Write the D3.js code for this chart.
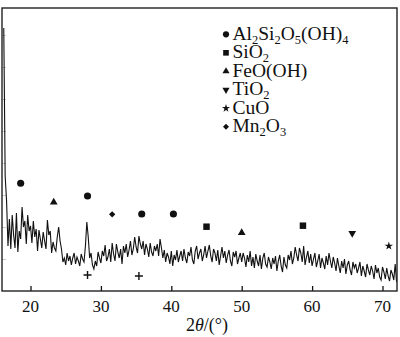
<!DOCTYPE html>
<html>
<head>
<meta charset="utf-8">
<script src="https://cdn.jsdelivr.net/npm/d3@7"></script>
<style>
  html, body { margin: 0; padding: 0; background: #fff; }
  svg { display: block; }
</style>
</head>
<body>
<svg id="chart" width="400" height="337"></svg>
<script>
// XRD scan, 2θ from 16.2° in 0.2° steps (counts, a.u.)
const twoThetaStart = 16.2;
const twoThetaStep = 0.2;
const intensity = [
  2630,1150,900,450,720,420,760,560,430,780,
  390,600,520,840,640,700,470,760,600,650,
  480,700,540,620,400,610,520,430,590,500,
  420,710,560,600,380,490,430,400,540,640,
  500,420,290,330,260,380,300,350,260,330,
  380,270,340,300,250,370,320,290,450,690,
  540,330,380,260,220,300,250,390,330,280,
  400,350,460,300,340,420,290,480,370,300,
  470,390,330,420,270,450,380,470,340,410,
  500,360,420,540,440,380,550,470,420,500,
  360,470,420,340,480,390,350,450,400,470,
  350,520,430,330,410,290,380,340,270,400,
  250,360,310,410,290,350,400,300,420,330,
  280,390,350,440,310,270,400,450,320,380,
  420,300,360,450,330,400,460,350,290,420,
  380,300,410,260,350,440,330,400,280,360,
  410,300,250,390,340,400,270,330,380,290,
  380,330,240,360,290,400,250,340,230,370,
  300,250,360,220,330,380,270,240,340,290,
  220,330,270,350,200,300,360,250,190,340,
  260,230,360,310,400,270,330,440,360,300,
  430,380,290,450,260,340,400,280,370,250,
  320,380,240,300,370,230,330,280,220,350,
  260,380,300,230,340,280,200,330,250,180,
  300,230,320,170,260,300,210,160,290,230,
  270,180,230,290,150,250,200,140,270,210,
  160,250,200,120,260,180,230,140,110,240,
  190,120,230,150,100,210,170,110,270,90
];

const xTicks = [20, 30, 40, 50, 60, 70];
const yTicks = [320, 640, 960, 1280, 1600, 1920, 2240, 2560];

// Phase legend entries
const phaseNames = ["Al2Si2O5(OH)4", "SiO2", "FeO(OH)", "TiO2", "CuO", "Mn2O3"];
const phaseSymbols = ["circle", "square", "triangle", "triangleDown", "star", "diamond"];

// Peak assignments: [2θ, marker height]
const circlePeaks = [[18.6, 1077], [28.1, 950], [35.8, 770], [40.3, 770]];
const squarePeaks = [[45.0, 643], [58.7, 653]];
const trianglePeaks = [[23.3, 887], [50.0, 583]];
const triangleDownPeaks = [[65.7, 577]];
const starPeaks = [[70.9, 450]];
const diamondPeaks = [[31.6, 767]];
const plusPeaks = [[28.1, 160], [35.4, 150]];

const FONT = "'Liberation Serif', 'Times New Roman', Times, serif";

const svg = d3.select("#chart").attr("font-family", FONT);
const plotLeft = 2, plotRight = 397, plotTop = 8, plotBottom = 291;

const x = d3.scaleLinear().domain([15.95, 72.06]).range([plotLeft, plotRight]);
const y = d3.scaleLinear().domain([0, 2830]).range([plotBottom, plotTop]);

const points = intensity.map((v, i) => [twoThetaStart + i * twoThetaStep, v]);

// faint left ticks
svg.append("g")
  .attr("transform", `translate(${plotLeft},0)`)
  .call(d3.axisRight(y).tickValues(yTicks).tickSize(4).tickFormat(""))
  .call(g => g.select(".domain").remove())
  .call(g => g.selectAll("line").attr("stroke", "#c8c8c8").attr("stroke-width", 1));

// bottom axis, inward ticks
const xAxis = svg.append("g")
  .attr("transform", `translate(0,${plotBottom})`)
  .call(d3.axisTop(x).tickValues(xTicks).tickSize(5).tickFormat(""));
xAxis.select(".domain").remove();
xAxis.selectAll("line").attr("stroke", "#111").attr("stroke-width", 1.3);

svg.append("g").selectAll("text")
  .data(xTicks)
  .join("text")
  .attr("x", d => x(d))
  .attr("y", 311.5)
  .attr("text-anchor", "middle")
  .attr("font-family", FONT)
  .attr("font-size", 17)
  .attr("fill", "#111")
  .text(d => d);

// axis title 2θ/(°)
const title = svg.append("text")
  .attr("x", 207)
  .attr("y", 331)
  .attr("text-anchor", "middle")
  .attr("font-family", FONT)
  .attr("font-size", 18)
  .attr("fill", "#111");
title.append("tspan").text("2");
title.append("tspan").attr("font-style", "italic").text("θ");
title.append("tspan").text("/(°)");

// diffraction curve
svg.append("path")
  .datum(points)
  .attr("fill", "none")
  .attr("stroke", "#111")
  .attr("stroke-width", 1.1)
  .attr("stroke-linejoin", "miter")
  .attr("d", d3.line().x(d => x(d[0])).y(d => y(d[1])));

// frame
svg.append("rect")
  .attr("x", plotLeft).attr("y", plotTop)
  .attr("width", plotRight - plotLeft).attr("height", plotBottom - plotTop)
  .attr("fill", "none")
  .attr("stroke", "#222")
  .attr("stroke-width", 1.4);

function symbolPath(kind, size) {
  switch (kind) {
    case "circle": return d3.symbol(d3.symbolCircle, size)();
    case "square": return d3.symbol(d3.symbolSquare, size)();
    case "triangle": return d3.symbol(d3.symbolTriangle, size)();
    case "triangleDown": return d3.symbol(d3.symbolTriangle, size)();
    case "star": return d3.symbol(d3.symbolStar, size)();
    case "diamond": return d3.symbol(d3.symbolSquare, size)();
  }
}
function symbolRotate(kind) {
  if (kind === "triangleDown") return 180;
  if (kind === "diamond") return 45;
  return 0;
}

const peakSizes = { circle: 40, square: 42, triangle: 26, triangleDown: 26, star: 22, diamond: 20 };
const peakSets = [
  ["circle", circlePeaks], ["square", squarePeaks], ["triangle", trianglePeaks],
  ["triangleDown", triangleDownPeaks], ["star", starPeaks], ["diamond", diamondPeaks]
];
const markerLayer = svg.append("g");
peakSets.forEach(([kind, pts]) => {
  markerLayer.selectAll(null)
    .data(pts)
    .join("path")
    .attr("d", symbolPath(kind, peakSizes[kind]))
    .attr("transform", d => `translate(${x(d[0])},${y(d[1])}) rotate(${symbolRotate(kind)})`)
    .attr("fill", "#111");
});

// unassigned reflections (+)
markerLayer.selectAll(null)
  .data(plusPeaks)
  .join("path")
  .attr("d", "M-4,0H4M0,-4V4")
  .attr("transform", d => `translate(${x(d[0])},${y(d[1])})`)
  .attr("stroke", "#111")
  .attr("stroke-width", 1.4)
  .attr("fill", "none");

// legend
const legendSizes = { circle: 30, square: 32, triangle: 22, triangleDown: 22, star: 20, diamond: 18 };
const legendX = 226, legendY0 = 34.3, legendStep = 18.5;
const legend = svg.append("g");
phaseNames.forEach((name, i) => {
  const cy = legendY0 + i * legendStep;
  const kind = phaseSymbols[i];
  legend.append("path")
    .attr("d", symbolPath(kind, legendSizes[kind]))
    .attr("transform", `translate(${legendX},${cy}) rotate(${symbolRotate(kind)})`)
    .attr("fill", "#111");
  const t = legend.append("text")
    .attr("x", legendX + 6.5)
    .attr("y", cy + 5.5)
    .attr("font-family", FONT)
    .attr("font-size", 19.5)
    .attr("fill", "#111");
  // digits in formulae are subscripts
  const parts = name.match(/\d+|\D+/g);
  parts.forEach(p => {
    const isSub = /^\d+$/.test(p);
    const ts = t.append("tspan").text(p);
    if (isSub) ts.attr("font-size", 12.5).attr("baseline-shift", -4);
  });
});
</script>
</body>
</html>
